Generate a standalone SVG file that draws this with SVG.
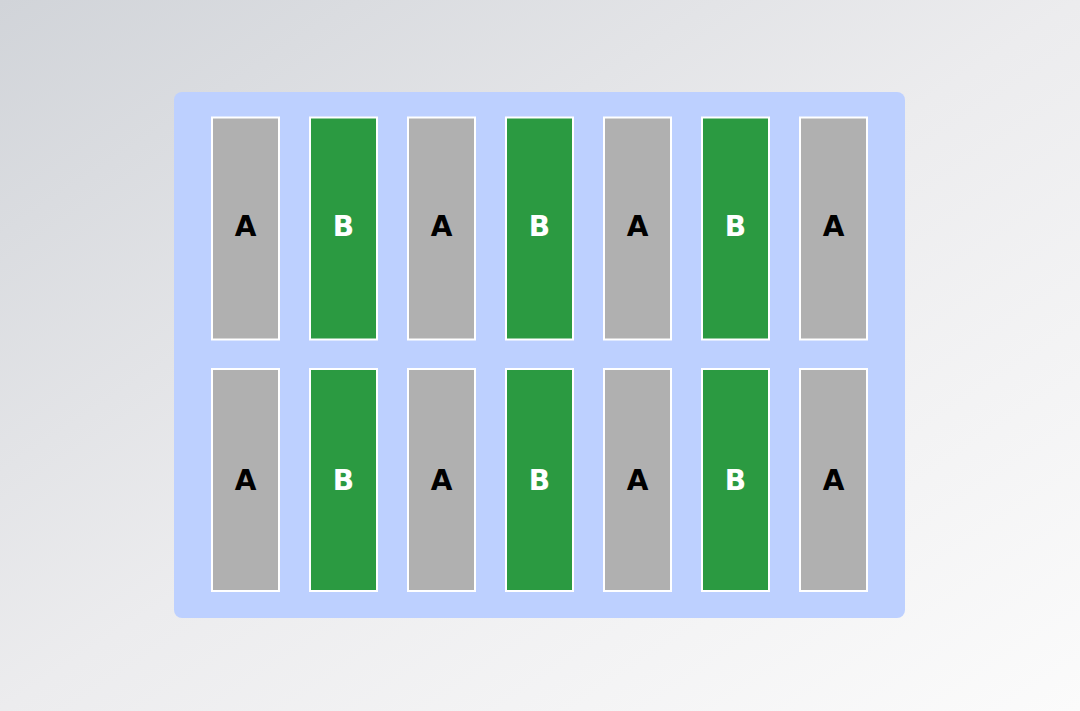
<svg xmlns="http://www.w3.org/2000/svg" width="1080" height="711" viewBox="0 0 1080 711">
<defs>
<linearGradient id="bg" x1="0" y1="0" x2="1" y2="1">
<stop offset="0" stop-color="#d1d4d9"/>
<stop offset="0.5" stop-color="#ececee"/>
<stop offset="1" stop-color="#fbfbfb"/>
</linearGradient>
<style>
.a{fill:#b0b0b0;stroke:#ffffff;stroke-width:2}
.b{fill:#2b9a41;stroke:#ffffff;stroke-width:2}
.t{font-family:"DejaVu Sans",sans-serif;font-weight:bold;font-size:28px;text-anchor:middle}
.ta{fill:#000000}
.tb{fill:#ffffff}
</style>
</defs>
<rect width="1080" height="711" fill="url(#bg)"/>
<rect x="174" y="92" width="731" height="526" rx="8" fill="#bdd0ff"/>
<g id="r1c1"><rect class="a" x="212" y="117.5" width="67" height="222"/><text class="t ta" x="245.5" y="236">A</text></g>
<g id="r1c2"><rect class="b" x="310" y="117.5" width="67" height="222"/><text class="t tb" x="343.5" y="236">B</text></g>
<g id="r1c3"><rect class="a" x="408" y="117.5" width="67" height="222"/><text class="t ta" x="441.5" y="236">A</text></g>
<g id="r1c4"><rect class="b" x="506" y="117.5" width="67" height="222"/><text class="t tb" x="539.5" y="236">B</text></g>
<g id="r1c5"><rect class="a" x="604" y="117.5" width="67" height="222"/><text class="t ta" x="637.5" y="236">A</text></g>
<g id="r1c6"><rect class="b" x="702" y="117.5" width="67" height="222"/><text class="t tb" x="735.5" y="236">B</text></g>
<g id="r1c7"><rect class="a" x="800" y="117.5" width="67" height="222"/><text class="t ta" x="833.5" y="236">A</text></g>
<g id="r2c1"><rect class="a" x="212" y="369" width="67" height="222"/><text class="t ta" x="245.5" y="490">A</text></g>
<g id="r2c2"><rect class="b" x="310" y="369" width="67" height="222"/><text class="t tb" x="343.5" y="490">B</text></g>
<g id="r2c3"><rect class="a" x="408" y="369" width="67" height="222"/><text class="t ta" x="441.5" y="490">A</text></g>
<g id="r2c4"><rect class="b" x="506" y="369" width="67" height="222"/><text class="t tb" x="539.5" y="490">B</text></g>
<g id="r2c5"><rect class="a" x="604" y="369" width="67" height="222"/><text class="t ta" x="637.5" y="490">A</text></g>
<g id="r2c6"><rect class="b" x="702" y="369" width="67" height="222"/><text class="t tb" x="735.5" y="490">B</text></g>
<g id="r2c7"><rect class="a" x="800" y="369" width="67" height="222"/><text class="t ta" x="833.5" y="490">A</text></g>
<g id="connectors"></g>
</svg>
